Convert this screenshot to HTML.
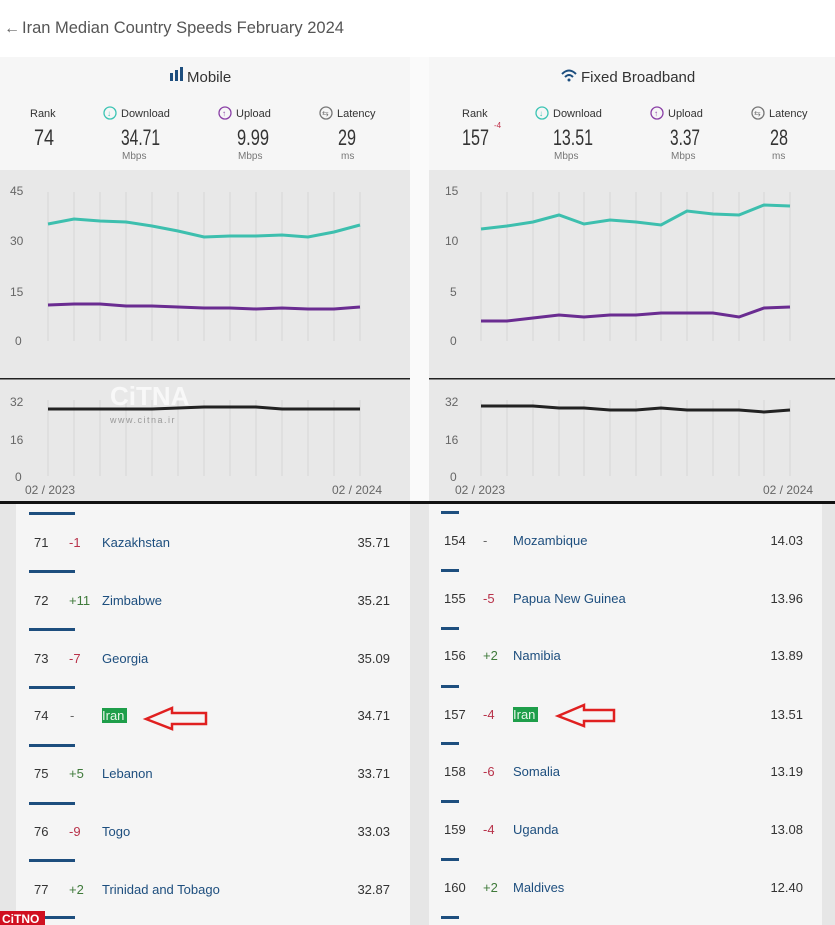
<!DOCTYPE html>
<html><head><meta charset="utf-8"><style>
html,body{margin:0;padding:0;background:#fff;}
svg{display:block;font-family:"Liberation Sans",sans-serif;}
</style></head><body>
<svg width="835" height="925" viewBox="0 0 835 925" xmlns="http://www.w3.org/2000/svg">
<rect width="835" height="925" fill="#ffffff"/>
<!-- title -->
<text x="4" y="33" font-size="16" fill="#666">←</text>
<text x="22" y="33" font-size="16.5" fill="#555">Iran Median Country Speeds February 2024</text>

<!-- LEFT CARD -->
<rect x="0" y="57" width="410" height="113" fill="#f6f6f6"/>
<rect x="0" y="170" width="410" height="332" fill="#e8e8e8"/>
<!-- RIGHT CARD -->
<rect x="429" y="57" width="406" height="113" fill="#f6f6f6"/>
<rect x="429" y="170" width="406" height="332" fill="#e8e8e8"/>
<rect x="410" y="57" width="19" height="445" fill="#fafafa"/>

<!-- Left header -->
<rect x="170" y="73" width="3" height="8" fill="#1d4e7e"/><rect x="175" y="70" width="3" height="11" fill="#1d4e7e"/><rect x="180" y="67" width="3" height="14" fill="#1d4e7e"/>
<text x="187" y="82" font-size="15" fill="#333">Mobile</text>
<g font-size="11" fill="#333">
<text x="30" y="117">Rank</text>
<circle cx="110" cy="113" r="6" fill="none" stroke="#3cc4b4" stroke-width="1.3"/><text x="107" y="116" font-size="8" fill="#3cc4b4">↓</text>
<text x="121" y="117">Download</text>
<circle cx="225" cy="113" r="6" fill="none" stroke="#8a3fa6" stroke-width="1.3"/><text x="222" y="116" font-size="8" fill="#8a3fa6">↑</text>
<text x="236" y="117">Upload</text>
<circle cx="326" cy="113" r="6" fill="none" stroke="#777" stroke-width="1.3"/><text x="322" y="116" font-size="8" fill="#777">⇆</text>
<text x="337" y="117">Latency</text>
</g>
<g font-size="22" fill="#333" font-family="Liberation Sans Narrow, Liberation Sans, sans-serif" transform="">
<text x="34" y="145" textLength="20" lengthAdjust="spacingAndGlyphs">74</text>
<text x="121" y="145" textLength="39" lengthAdjust="spacingAndGlyphs">34.71</text>
<text x="237" y="145" textLength="32" lengthAdjust="spacingAndGlyphs">9.99</text>
<text x="338" y="145" textLength="18" lengthAdjust="spacingAndGlyphs">29</text>
</g>
<g font-size="10" fill="#777">
<text x="122" y="159">Mbps</text><text x="238" y="159">Mbps</text><text x="341" y="159">ms</text>
</g>

<!-- Right header -->
<text x="562" y="81" font-size="13" fill="#1d4e7e">📶</text>
<path d="M562 73 q7 -7 14 0 M565 76 q4 -4 8 0" stroke="#1d4e7e" stroke-width="2" fill="none"/><circle cx="569" cy="79" r="1.5" fill="#1d4e7e"/>
<text x="581" y="82" font-size="15" fill="#333">Fixed Broadband</text>
<rect x="558" y="66" width="20" height="18" fill="#f6f6f6"/>
<path d="M562 74 q7 -7 14 0 M565 77 q4 -4 8 0" stroke="#1d4e7e" stroke-width="2" fill="none"/><circle cx="569" cy="80" r="1.5" fill="#1d4e7e"/>
<g font-size="11" fill="#333">
<text x="462" y="117">Rank</text>
<circle cx="542" cy="113" r="6" fill="none" stroke="#3cc4b4" stroke-width="1.3"/><text x="539" y="116" font-size="8" fill="#3cc4b4">↓</text>
<text x="553" y="117">Download</text>
<circle cx="657" cy="113" r="6" fill="none" stroke="#8a3fa6" stroke-width="1.3"/><text x="654" y="116" font-size="8" fill="#8a3fa6">↑</text>
<text x="668" y="117">Upload</text>
<circle cx="758" cy="113" r="6" fill="none" stroke="#777" stroke-width="1.3"/><text x="754" y="116" font-size="8" fill="#777">⇆</text>
<text x="769" y="117">Latency</text>
</g>
<g font-size="22" fill="#333">
<text x="462" y="145" textLength="27" lengthAdjust="spacingAndGlyphs">157</text>
<text x="553" y="145" textLength="40" lengthAdjust="spacingAndGlyphs">13.51</text>
<text x="670" y="145" textLength="30" lengthAdjust="spacingAndGlyphs">3.37</text>
<text x="770" y="145" textLength="18" lengthAdjust="spacingAndGlyphs">28</text>
</g>
<text x="494" y="128" font-size="8" fill="#c0304a">-4</text>
<g font-size="10" fill="#777">
<text x="554" y="159">Mbps</text><text x="671" y="159">Mbps</text><text x="772" y="159">ms</text>
</g>

<!-- Left chart grid -->
<g stroke="#d6d6d6" stroke-width="1">
<path d="M48 192V341M74 192V341M100 192V341M126 192V341M152 192V341M178 192V341M204 192V341M230 192V341M256 192V341M282 192V341M308 192V341M334 192V341M360 192V341"/>
<path d="M48 400V476M74 400V476M100 400V476M126 400V476M152 400V476M178 400V476M204 400V476M230 400V476M256 400V476M282 400V476M308 400V476M334 400V476M360 400V476"/>
<path d="M481 192V341M507 192V341M533 192V341M559 192V341M584 192V341M610 192V341M636 192V341M661 192V341M687 192V341M713 192V341M739 192V341M764 192V341M790 192V341"/>
<path d="M481 400V476M507 400V476M533 400V476M559 400V476M584 400V476M610 400V476M636 400V476M661 400V476M687 400V476M713 400V476M739 400V476M764 400V476M790 400V476"/>
</g>
<g font-size="12" fill="#666">
<text x="10" y="195">45</text><text x="10" y="245">30</text><text x="10" y="296">15</text><text x="15" y="345">0</text>
<text x="10" y="406">32</text><text x="10" y="444">16</text><text x="15" y="481">0</text>
<text x="25" y="494">02 / 2023</text><text x="332" y="494">02 / 2024</text>
<text x="445" y="195">15</text><text x="445" y="245">10</text><text x="450" y="296">5</text><text x="450" y="345">0</text>
<text x="445" y="406">32</text><text x="445" y="444">16</text><text x="450" y="481">0</text>
<text x="455" y="494">02 / 2023</text><text x="763" y="494">02 / 2024</text>
</g>
<!-- series -->
<polyline fill="none" stroke="#3dbfae" stroke-width="3" points="48,224 74,219 100,221 126,222 152,226 178,231 204,237 230,236 256,236 282,235 308,237 334,232 360,225"/>
<polyline fill="none" stroke="#6a2c91" stroke-width="3" points="48,305 74,304 100,304 126,306 152,306 178,307 204,308 230,308 256,309 282,308 308,309 334,309 360,307"/>
<polyline fill="none" stroke="#222" stroke-width="3" points="48,409 100,409 152,409 178,408 204,407 256,407 282,409 308,409 360,409"/>
<polyline fill="none" stroke="#3dbfae" stroke-width="3" points="481,229 507,226 533,222 559,215 584,224 610,220 636,222 661,225 687,211 713,214 739,215 764,205 790,206"/>
<polyline fill="none" stroke="#6a2c91" stroke-width="3" points="481,321 507,321 533,318 559,315 584,317 610,315 636,315 661,313 687,313 713,313 739,317 764,308 790,307"/>
<polyline fill="none" stroke="#222" stroke-width="3" points="481,406 533,406 559,408 584,408 610,410 636,410 661,408 687,410 713,410 739,410 764,412 790,410"/>

<!-- separators -->
<rect x="0" y="378" width="410" height="1.5" fill="#222"/>
<rect x="429" y="378" width="406" height="1.5" fill="#222"/>
<rect x="0" y="501" width="835" height="3" fill="#111"/>

<!-- watermark -->
<text x="110" y="405" font-size="26" font-weight="bold" fill="#fafafa" opacity="0.9">CiTNA</text>
<text x="110" y="423" font-size="9" fill="#999" letter-spacing="1.5">www.citna.ir</text>

<!-- Lists -->
<rect x="0" y="504" width="16" height="421" fill="#e6e6e6"/>
<rect x="16" y="504" width="394" height="421" fill="#f5f5f5"/>
<rect x="410" y="504" width="19" height="421" fill="#e6e6e6"/>
<rect x="429" y="504" width="393" height="421" fill="#f5f5f5"/>
<rect x="822" y="504" width="13" height="421" fill="#e6e6e6"/>

<g fill="#1d4e7e">
<rect x="29" y="512" width="46" height="3"/><rect x="29" y="570" width="46" height="3"/><rect x="29" y="628" width="46" height="3"/><rect x="29" y="686" width="46" height="3"/><rect x="29" y="744" width="46" height="3"/><rect x="29" y="802" width="46" height="3"/><rect x="29" y="859" width="46" height="3"/><rect x="29" y="916" width="46" height="3"/>
<rect x="441" y="511" width="18" height="3"/><rect x="441" y="569" width="18" height="3"/><rect x="441" y="627" width="18" height="3"/><rect x="441" y="685" width="18" height="3"/><rect x="441" y="742" width="18" height="3"/><rect x="441" y="800" width="18" height="3"/><rect x="441" y="858" width="18" height="3"/><rect x="441" y="916" width="18" height="3"/>
</g>

<g font-size="13" fill="#333">
<text x="34" y="547">71</text><text x="34" y="605">72</text><text x="34" y="663">73</text><text x="34" y="720">74</text><text x="34" y="778">75</text><text x="34" y="836">76</text><text x="34" y="894">77</text>
<g text-anchor="end"><text x="390" y="547">35.71</text><text x="390" y="605">35.21</text><text x="390" y="663">35.09</text><text x="390" y="720">34.71</text><text x="390" y="778">33.71</text><text x="390" y="836">33.03</text><text x="390" y="894">32.87</text>
<text x="803" y="545">14.03</text><text x="803" y="603">13.96</text><text x="803" y="660">13.89</text><text x="803" y="719">13.51</text><text x="803" y="776">13.19</text><text x="803" y="834">13.08</text><text x="803" y="892">12.40</text></g>
<text x="444" y="545">154</text><text x="444" y="603">155</text><text x="444" y="660">156</text><text x="444" y="719">157</text><text x="444" y="776">158</text><text x="444" y="834">159</text><text x="444" y="892">160</text>
</g>
<g font-size="13">
<text x="69" y="547" fill="#b8324a">-1</text><text x="69" y="605" fill="#3f7a3a">+11</text><text x="69" y="663" fill="#b8324a">-7</text><text x="70" y="720" fill="#666">-</text><text x="69" y="778" fill="#3f7a3a">+5</text><text x="69" y="836" fill="#b8324a">-9</text><text x="69" y="894" fill="#3f7a3a">+2</text>
<text x="483" y="545" fill="#666">-</text><text x="483" y="603" fill="#b8324a">-5</text><text x="483" y="660" fill="#3f7a3a">+2</text><text x="483" y="719" fill="#b8324a">-4</text><text x="483" y="776" fill="#b8324a">-6</text><text x="483" y="834" fill="#b8324a">-4</text><text x="483" y="892" fill="#3f7a3a">+2</text>
</g>
<rect x="102" y="708" width="25" height="15" fill="#1e9e4a"/>
<rect x="513" y="707" width="25" height="15" fill="#1e9e4a"/>
<g font-size="13" fill="#1d4e7e">
<text x="102" y="547">Kazakhstan</text><text x="102" y="605">Zimbabwe</text><text x="102" y="663">Georgia</text><text x="102" y="720" fill="#e8f5e8">Iran</text><text x="102" y="778">Lebanon</text><text x="102" y="836">Togo</text><text x="102" y="894">Trinidad and Tobago</text>
<text x="513" y="545">Mozambique</text><text x="513" y="603">Papua New Guinea</text><text x="513" y="660">Namibia</text><text x="513" y="719" fill="#e8f5e8">Iran</text><text x="513" y="776">Somalia</text><text x="513" y="834">Uganda</text><text x="513" y="892">Maldives</text>
</g>
<!-- arrows -->
<path d="M146 719 L172 708 L172 713 L206 713 L206 724 L172 724 L172 729 Z" fill="none" stroke="#e02020" stroke-width="2.5"/>
<path d="M558 716 L584 705 L584 710 L614 710 L614 721 L584 721 L584 726 Z" fill="none" stroke="#e02020" stroke-width="2.5"/>
<!-- bottom logo -->
<rect x="0" y="911" width="45" height="14" fill="#d01020"/>
<text x="2" y="923" font-size="12" font-weight="bold" fill="#fff">CiTNO</text>
</svg>
</body></html>
